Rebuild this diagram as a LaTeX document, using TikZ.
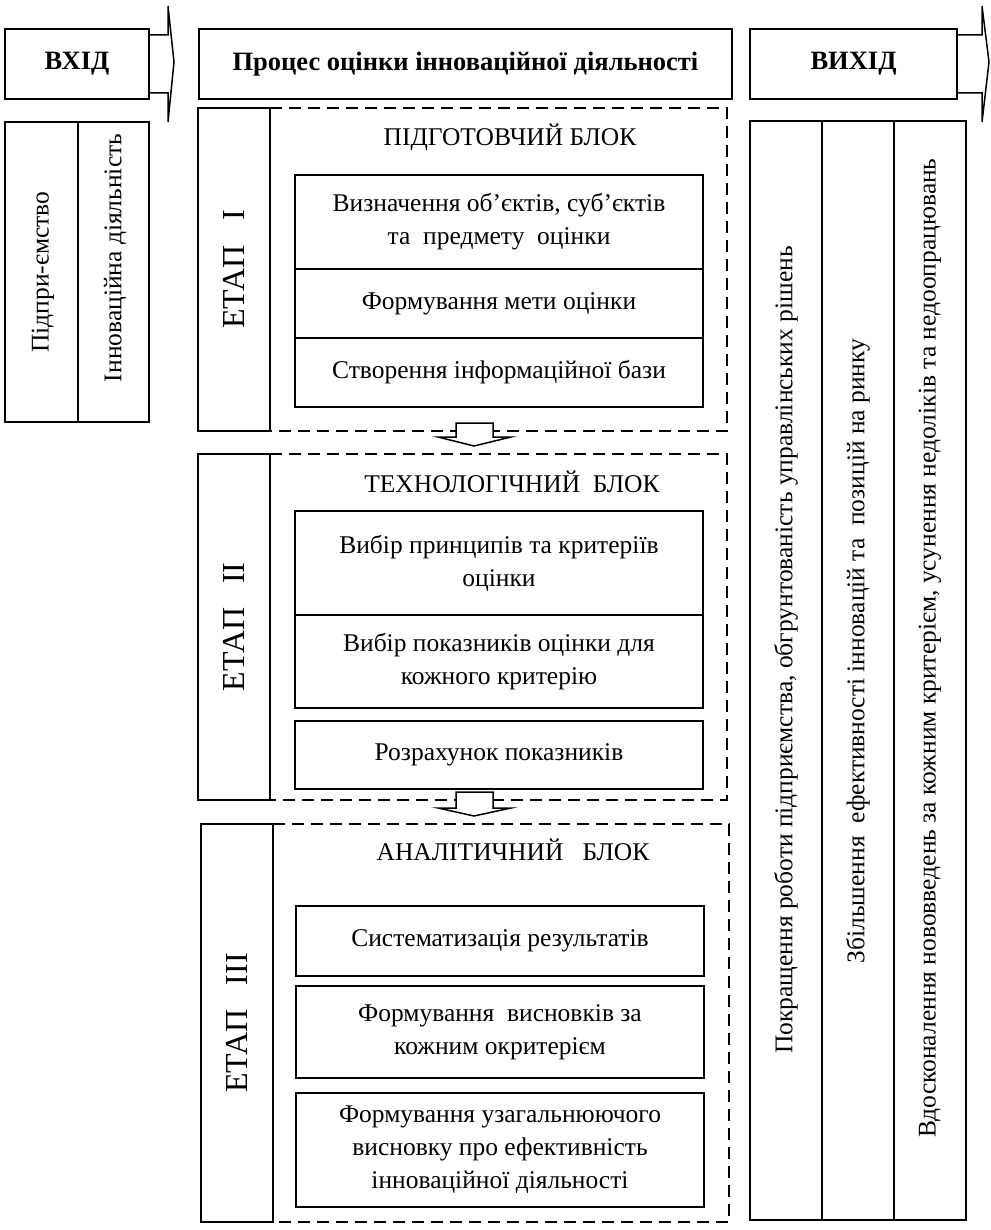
\documentclass[tikz,border=0pt]{standalone}
\usepackage{fontspec}
\setmainfont{Liberation Serif}
\usetikzlibrary{positioning}

\begin{document}
\begin{tikzpicture}[
    x=1pt, y=-1pt,
    node distance=0pt,
    every node/.style={font=\fontsize{25.5}{33}\selectfont},
    head/.style={rectangle, draw, line width=1.5pt, outer sep=0pt, inner sep=0pt, anchor=north west, font=\fontsize{26.5}{33}\selectfont\bfseries},
    cell/.style={rectangle, draw, line width=1.5pt, outer sep=0pt, inner sep=0pt, anchor=north west},
    stepcell/.style={rectangle, draw, line width=1.5pt, outer sep=0pt, inner sep=0pt, anchor=north west, minimum width=408pt, align=center},
    stagecell/.style={rectangle, draw, line width=1.5pt, outer sep=0pt, inner sep=0pt, rotate=90, font=\fontsize{32}{38}\selectfont},
    vtext/.style={rotate=90, inner sep=0pt},
    frame/.style={line width=1.5pt, dash pattern=on 12pt off 7pt},
    blockarrow/.style={draw, line width=1.5pt, fill=white, line join=miter}
]
\useasboundingbox (0,0) rectangle (990,1230);

% Header row
\node[head, minimum width=144pt, minimum height=70pt] (in) at (5,29) {ВХІД};
\node[head, minimum width=533pt, minimum height=70pt] (proc) at (199,29) {Процес оцінки інноваційної діяльності};
\node[head, minimum width=207pt, minimum height=70pt] (out) at (750,29) {ВИХІД};

% Input and output arrows
\draw[line width=1.5pt] (149,35) -- (168,35) -- (168,6) -- (174,62) -- (168,122) -- (168,93) -- (149,93);
\draw[line width=1.5pt] (957,35) -- (982,35) -- (982,6) -- (989,62) -- (982,122) -- (982,93) -- (957,93);

% Input column
\node[cell, minimum width=73pt, minimum height=300pt] (ent) at (5,122) {};
\node[cell, minimum width=71pt, minimum height=300pt] (act) at (78,122) {};
\node[vtext] (entlbl) at (43,272) {Підпри-ємство};
\node[vtext] (actlbl) at (115,258) {Інноваційна діяльність};

% Output column
\node[cell, minimum width=72pt, minimum height=1099pt] (res1) at (750,121) {};
\node[cell, minimum width=72pt, minimum height=1099pt] (res2) at (822,121) {};
\node[cell, minimum width=72pt, minimum height=1099pt] (res3) at (894,121) {};
\node[vtext] (res1lbl) at (786,650) {Покращення роботи підприємства, обгрунтованість управлінських рішень};
\node[vtext] (res2lbl) at (858,651) {Збільшення\ \ ефективності інновацій та\ \ позицій на ринку};
\node[vtext] (res3lbl) at (930,648) {Вдосконалення нововведень за кожним критерієм, усунення недоліків та недоопрацювань};

% Stage I
\node[stagecell, minimum width=323pt, minimum height=72pt] (st1) at (234,269.5) {ЕТАП\ \ \ I};
\draw[frame] (270,108) -| (727,431) -- (270,431);
\node (prep) at (510,137) {ПІДГОТОВЧИЙ БЛОК};
\node[stepcell, minimum height=94pt] (objects) at (295,175) {Визначення об’єктів, суб’єктів\\та\ \ предмету\ \ оцінки};
\node[stepcell, minimum height=69pt, below=of objects] (goal) {Формування мети оцінки};
\node[stepcell, minimum height=69pt, below=of goal] (base) {Створення інформаційної бази};

% Stage II
\node[stagecell, minimum width=346pt, minimum height=72pt] (st2) at (234,627) {ЕТАП\ \ \ II};
\draw[frame] (270,454) -| (727,800) -- (270,800);
\node (tech) at (512,482) {ТЕХНОЛОГІЧНИЙ\ \ БЛОК};
\node[stepcell, minimum height=104pt] (princ) at (295,511) {Вибір принципів та критеріїв\\оцінки};
\node[stepcell, minimum height=93pt, below=of princ] (indic) {Вибір показників оцінки для\\кожного критерію};
\node[stepcell, minimum height=68pt, below=13pt of indic] (calc) {Розрахунок показників};

% Stage III
\node[stagecell, minimum width=398pt, minimum height=72pt] (st3) at (237,1023) {ЕТАП\ \ \ III};
\draw[frame] (273,824) -| (729,1222) -- (273,1222);
\node (anal) at (513,850) {АНАЛІТИЧНИЙ\ \ \ БЛОК};
\node[stepcell, minimum height=70pt] (system) at (296,906) {Систематизація результатів};
\node[stepcell, minimum height=92pt, below=10pt of system] (concl) {Формування\ \ висновків за\\кожним окритерієм};
\node[stepcell, minimum height=114pt, below=15pt of concl] (summary) {Формування узагальнюючого\\висновку про ефективність\\інноваційної діяльності};

% Arrows between stages
\draw[blockarrow] (456,423) -- (456,437) -- (438,437) -- (474,446) -- (511,437) -- (493,437) -- (493,423) -- cycle;
\draw[blockarrow] (456,792) -- (456,808) -- (438,808) -- (474,816) -- (511,808) -- (493,808) -- (493,792) -- cycle;

\end{tikzpicture}
\end{document}
